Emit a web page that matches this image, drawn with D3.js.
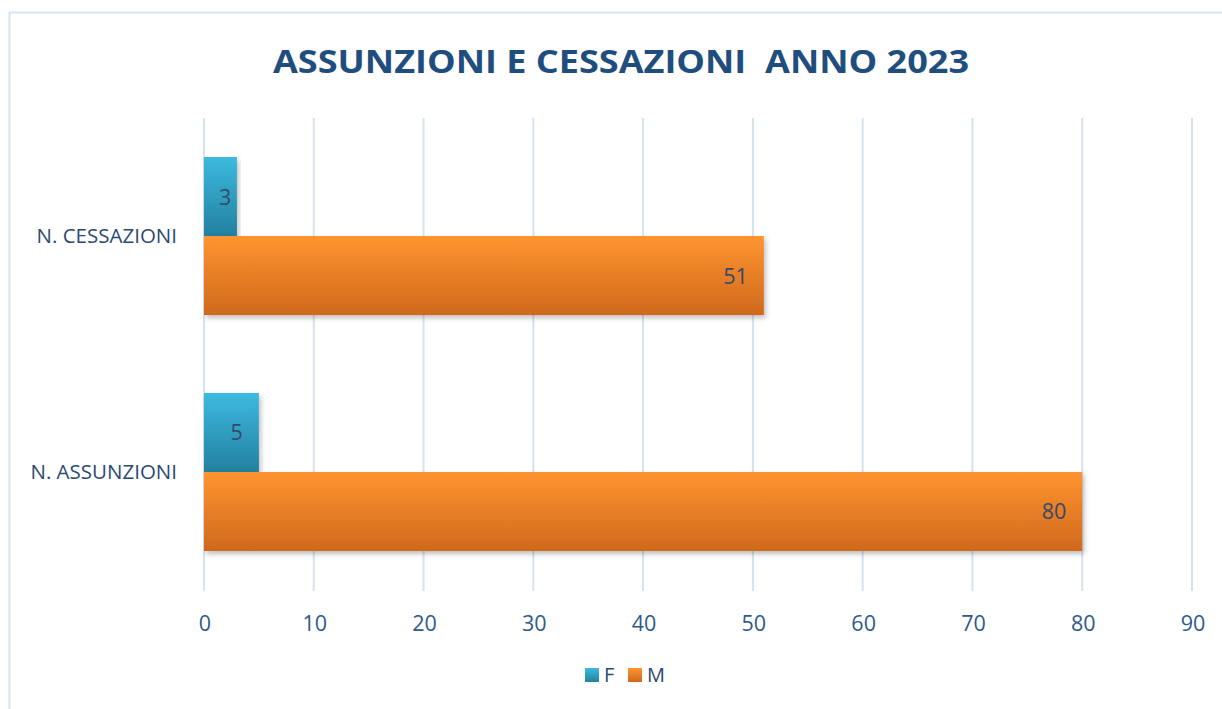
<!DOCTYPE html>
<html>
<head>
<meta charset="utf-8">
<script src="https://cdn.jsdelivr.net/npm/d3@7"></script>
<style>
  html, body { margin: 0; padding: 0; background: #fff; }
  svg { display: block; font-family: "Open Sans", "Noto Sans", sans-serif; }
</style>
</head>
<body>
<div id="chart"></div>
<script>
// categories listed bottom-up, as Excel does
const categories = ['N. ASSUNZIONI', 'N. CESSAZIONI'];
const seriesNames = ['F', 'M'];
const valuesF = [5, 3];
const valuesM = [80, 51];
const xTicks = [0, 10, 20, 30, 40, 50, 60, 70, 80, 90];
const titleText = 'ASSUNZIONI E CESSAZIONI  ANNO 2023';

(function () {
  const W = 1222, H = 709;
  const plot = { left: 204, right: 1192, top: 118, bottom: 590 };

  const palette = {
    frame: '#d5e3f3',
    grid: '#d6e1ef',
    title: '#1f4e7e',
    tick: '#2e5a8c',
    label: '#2b4a72',
    value: '#34486a'
  };

  const svg = d3.select('#chart').append('svg')
    .attr('width', W).attr('height', H);

  const defs = svg.append('defs');
  const grads = {
    F: ['#3cbadf', '#23809f'],
    M: ['#ff9430', '#cf691d']
  };
  Object.entries(grads).forEach(([k, c]) => {
    const g = defs.append('linearGradient').attr('id', 'g' + k)
      .attr('x1', 0).attr('y1', 0).attr('x2', 0).attr('y2', 1);
    g.append('stop').attr('offset', '0%').attr('stop-color', c[0]);
    g.append('stop').attr('offset', '100%').attr('stop-color', c[1]);
  });
  const f = defs.append('filter').attr('id', 'shadow')
    .attr('x', '-5%').attr('y', '-20%').attr('width', '115%').attr('height', '150%');
  f.append('feDropShadow').attr('dx', 2).attr('dy', 3).attr('stdDeviation', 2.5)
    .attr('flood-color', '#000').attr('flood-opacity', 0.25);

  // outer frame (runs off right and bottom edges)
  svg.append('rect')
    .attr('x', 9.5).attr('y', 12.5).attr('width', 1300).attr('height', 800)
    .attr('fill', 'none').attr('stroke', palette.frame).attr('stroke-width', 2);

  svg.append('text')
    .attr('x', 621).attr('y', 73)
    .attr('text-anchor', 'middle')
    .attr('fill', palette.title)
    .attr('font-size', 32).attr('font-weight', 700)
    .attr('textLength', 696).attr('lengthAdjust', 'spacingAndGlyphs')
    .style('white-space', 'pre')
    .text(titleText);

  const x = d3.scaleLinear().domain([0, 90]).range([plot.left, plot.right]);

  const y = d3.scaleBand().domain(categories)
    .range([plot.bottom, plot.top])
    .paddingInner(0.3305).paddingOuter(0.1653);

  const ySub = d3.scaleBand().domain(seriesNames).range([0, y.bandwidth()]);

  // gridlines
  svg.append('g').selectAll('line').data(xTicks).enter().append('line')
    .attr('x1', d => x(d)).attr('x2', d => x(d))
    .attr('y1', plot.top).attr('y2', plot.bottom + 1)
    .attr('stroke', palette.grid).attr('stroke-width', 2);

  // x tick labels
  svg.append('g').selectAll('text').data(xTicks).enter().append('text')
    .attr('x', d => x(d) + 1).attr('y', 631)
    .attr('text-anchor', 'middle')
    .attr('fill', palette.tick).attr('font-size', 21.5)
    .text(d => d);

  // category labels
  svg.append('g').selectAll('text').data(categories).enter().append('text')
    .attr('x', 177).attr('y', d => y(d) + y.bandwidth() / 2 + 7)
    .attr('text-anchor', 'end')
    .attr('fill', palette.label).attr('font-size', 20.5)
    .text(d => d);

  const rows = [];
  categories.forEach((c, i) => {
    rows.push({ cat: c, s: 'F', v: valuesF[i] });
    rows.push({ cat: c, s: 'M', v: valuesM[i] });
  });

  svg.append('g').selectAll('rect').data(rows).enter().append('rect')
    .attr('x', x(0))
    .attr('y', d => y(d.cat) + ySub(d.s))
    .attr('width', d => x(d.v) - x(0))
    .attr('height', ySub.bandwidth())
    .attr('fill', d => `url(#g${d.s})`)
    .attr('filter', 'url(#shadow)');

  // value labels: inside end, kept inside short bars
  svg.append('g').selectAll('text').data(rows).enter().append('text')
    .attr('y', d => y(d.cat) + ySub(d.s) + ySub.bandwidth() / 2 + 8)
    .attr('text-anchor', 'end')
    .attr('fill', palette.value).attr('font-size', 21.5)
    .text(d => d.v)
    .attr('x', function (d) {
      const w = this.getComputedTextLength();
      return Math.max(x(d.v) - 16, x(0) + 15 + w);
    });

  // legend
  const legend = svg.append('g');
  const legendX = { F: 585, M: 628 };
  seriesNames.forEach(s => {
    legend.append('rect')
      .attr('x', legendX[s]).attr('y', 668)
      .attr('width', 14).attr('height', 14)
      .attr('fill', `url(#g${s})`);
    legend.append('text')
      .attr('x', legendX[s] + 19).attr('y', 682)
      .attr('fill', palette.label).attr('font-size', 20)
      .text(s);
  });
})();
</script>
</body>
</html>
